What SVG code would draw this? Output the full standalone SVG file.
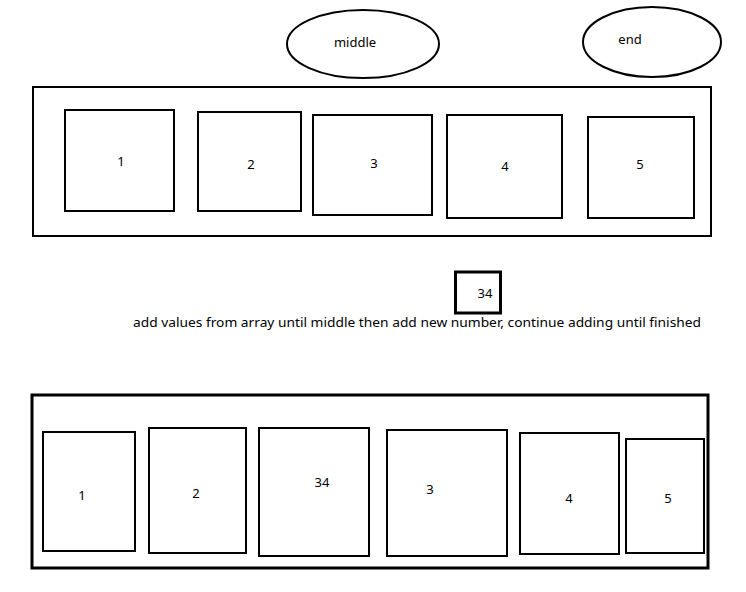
<svg xmlns="http://www.w3.org/2000/svg" width="746" height="592" viewBox="0 0 746 592">
<style>
  .bx{fill:#fff;stroke:#000;stroke-width:2}
  .outer{fill:#fff;stroke:#000;stroke-width:2}
  .outer3{fill:#fff;stroke:#000;stroke-width:3}
  .el{fill:#fff;stroke:#000;stroke-width:2}
  .t{font-family:"Noto Sans","Open Sans","Liberation Sans",sans-serif;font-size:13px;fill:#000;text-anchor:middle}
  .tl{font-family:"Noto Sans","Open Sans","Liberation Sans",sans-serif;font-size:13px;fill:#000}
</style>
<rect width="746" height="592" fill="#fff"/>
<g id="middle"><ellipse class="el" cx="363" cy="44" rx="76" ry="34"/><text class="t" x="355" y="47">middle</text></g>
<g id="end"><ellipse class="el" cx="652" cy="42" rx="69" ry="35"/><text class="t" x="630" y="44">end</text></g>
<g id="array1">
  <rect class="outer" x="33" y="87" width="678" height="149"/>
  <g id="a1"><rect class="bx" x="65" y="110" width="109" height="101"/><text class="t" x="121" y="166">1</text></g>
  <g id="a2"><rect class="bx" x="198" y="112" width="103" height="99"/><text class="t" x="251" y="169">2</text></g>
  <g id="a3"><rect class="bx" x="313" y="115" width="119" height="100"/><text class="t" x="374" y="168">3</text></g>
  <g id="a4"><rect class="bx" x="447" y="115" width="115" height="103"/><text class="t" x="505" y="171">4</text></g>
  <g id="a5"><rect class="bx" x="588" y="117" width="106" height="101"/><text class="t" x="640" y="169">5</text></g>
</g>
<g id="newnum"><rect class="bx" x="455.5" y="272" width="45" height="41" style="stroke-width:3"/><text class="t" x="485" y="298">34</text></g>
<g id="note"><text class="tl" x="133" y="327" textLength="568" lengthAdjust="spacingAndGlyphs">add values from array until middle then add new number, continue adding until finished</text></g>
<g id="array2">
  <rect class="outer3" x="32" y="395" width="676" height="173"/>
  <g id="b1"><rect class="bx" x="43" y="432" width="92" height="119"/><text class="t" x="82" y="500">1</text></g>
  <g id="b2"><rect class="bx" x="149" y="428" width="97" height="125"/><text class="t" x="196" y="498">2</text></g>
  <g id="b3"><rect class="bx" x="259" y="428" width="110" height="128"/><text class="t" x="322" y="487">34</text></g>
  <g id="b4"><rect class="bx" x="387" y="430" width="120" height="126"/><text class="t" x="430" y="494">3</text></g>
  <g id="b5"><rect class="bx" x="520" y="433" width="99" height="121"/><text class="t" x="569" y="503">4</text></g>
  <g id="b6"><rect class="bx" x="626" y="439" width="78" height="114"/><text class="t" x="668" y="503">5</text></g>
</g>
<g id="connectors"/>
</svg>
